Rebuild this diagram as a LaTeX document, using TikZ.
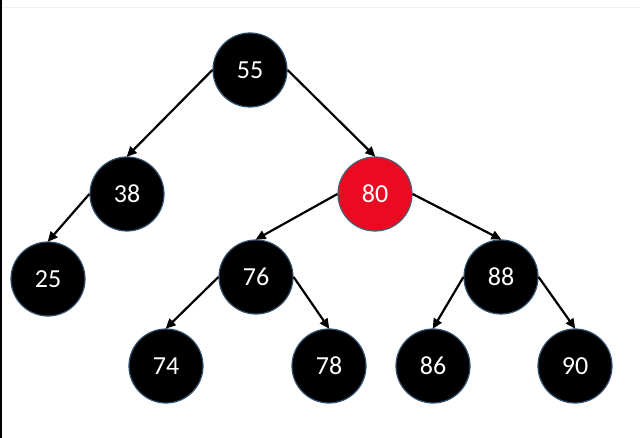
\documentclass[tikz,border=0pt]{standalone}
\usepackage{fontspec}
\setmainfont{Carlito}
\usetikzlibrary{arrows.meta}
\definecolor{rimblue}{RGB}{50,80,110}
\definecolor{nodered}{RGB}{236,10,35}
\tikzset{
  treenode/.style={circle, fill=black, draw=rimblue, line width=1.2pt, minimum size=74pt, inner sep=0pt,
    text=white, font=\fontsize{26}{31}\selectfont},
  rednode/.style={treenode, fill=nodered, draw=rimblue!70!gray},
  link/.style={line width=2.2pt, -{Triangle[length=10pt,width=9pt]}, shorten >=-0.5pt}
}
\begin{document}
\begin{tikzpicture}[x=1pt,y=-1pt]
\useasboundingbox (0,0) rectangle (640,438);
\fill[white] (0,0) rectangle (640,438);
\fill[black] (0,0) rectangle (2,438);
\draw[black!6, line width=1pt] (2,8) -- (640,8);
\node[treenode] (n55) at (250,70) {55};
\node[treenode] (n38) at (127,194) {38};
\node[rednode]  (n80) at (375,194) {80};
\node[treenode] (n25) at (48,279) {25};
\node[treenode] (n76) at (256,277) {76};
\node[treenode] (n88) at (501,277) {88};
\node[treenode] (n74) at (166,366) {74};
\node[treenode] (n78) at (329,366) {78};
\node[treenode] (n86) at (433,366) {86};
\node[treenode] (n90) at (575,366) {90};
\draw[link] (n55.west) -- (n38.north);
\draw[link] (n55.east) -- (n80.north);
\draw[link] (n38.west) -- (n25.north);
\draw[link] (n80.west) -- (n76.north);
\draw[link] (n80.east) -- (n88.north);
\draw[link] (n76.west) -- (n74.north);
\draw[link] (n76.east) -- (n78.north);
\draw[link] (n88.west) -- (n86.north);
\draw[link] (n88.east) -- (n90.north);
\end{tikzpicture}
\end{document}
